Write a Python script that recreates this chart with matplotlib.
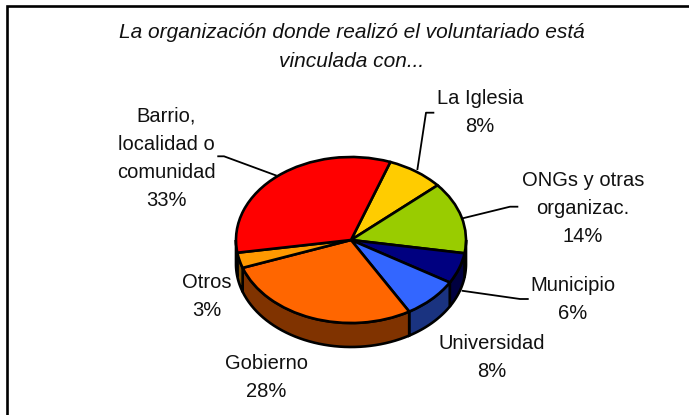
import numpy as np
import matplotlib
matplotlib.use('Agg')
import matplotlib.pyplot as plt

plt.rcParams['font.family'] = ['Liberation Sans', 'DejaVu Sans']

# data, clockwise from the red/yellow boundary
names   = ['La Iglesia', 'ONGs y otras\norganizac.', 'Municipio', 'Universidad',
           'Gobierno', 'Otros', 'Barrio,\nlocalidad o\ncomunidad']
values  = [8, 14, 6, 8, 28, 3, 33]
colours = ['#FFCC00', '#99CC00', '#000080', '#3366FF', '#FF6600', '#FF9900', '#FF0000']
sides   = ['#806600', '#4C6600', '#000040', '#1A3380', '#803300', '#804C00', '#800000']
title   = 'La organización donde realizó el voluntariado está\nvinculada con...'

W, H = 689, 415
start_cw = 20    # degrees clockwise from the top
depth = 24 / 83  # wall height in units of the vertical radius

fig = plt.figure(figsize=(W / 100, H / 100), dpi=100)

# page axes in pixel coords, for frame, text and leaders
page = fig.add_axes([0, 0, 1, 1])
page.set_xlim(0, W)
page.set_ylim(H, 0)
page.axis('off')

page.plot([7, 7, W], [H, 6.5, 6.5], color='black', lw=1.9, solid_capstyle='butt', solid_joinstyle='miter')
page.text(352, 47, title, ha='center', va='center', fontsize=15, style='italic', linespacing=1.63,
          color='#111111')

# label centres and leader lines
label_pos = [(480, 112), (583, 208.5), (573, 299), (492, 357), (266, 377), (207, 296), (166, 158)]
leaders = {
    0: [(417.3, 170), (426, 112.7), (434.3, 112.7)],
    1: [(462.7, 218.3), (510, 206.7), (518.3, 206.7)],
    2: [(461.7, 290.7), (520, 299), (528.7, 299)],
    6: [(217.3, 156.3), (224, 156.3), (276.7, 175.7)],
}
for i, name in enumerate(names):
    page.text(label_pos[i][0], label_pos[i][1], f'{name}\n{values[i]}%', ha='center', va='center',
              fontsize=14.5, linespacing=1.6, color='#111111')
for pts in leaders.values():
    xs, ys = zip(*pts)
    page.plot(xs, ys, color='black', lw=1.3, solid_capstyle='butt')

# pie axes: unit circle squashed onto the top ellipse
left, right, top, bottom = 236, 466, 157, 323
ax = fig.add_axes([left / W, 1 - bottom / H, (right - left) / W, (bottom - top) / H])
ax.patch.set_alpha(0)

# side walls, only the front half (90..270 clockwise from top) is seen
edges = start_cw + np.cumsum([0] + values) * 3.6
for i in range(len(values)):
    a0, a1 = edges[i], edges[i + 1]
    for shift in (0, -360):
        lo = max(a0 + shift, 90)
        hi = min(a1 + shift, 270)
        if hi <= lo:
            continue
        t = np.deg2rad(np.linspace(lo, hi, 40))
        x = np.sin(t)
        y = np.cos(t)
        ax.fill(np.r_[x, x[::-1]], np.r_[y, y[::-1] - depth], facecolor=sides[i],
                edgecolor='black', lw=1.9, clip_on=False, zorder=1)

wedges, _ = ax.pie(values, colors=colours, startangle=90 - start_cw, counterclock=False,
                   wedgeprops={'edgecolor': 'black', 'linewidth': 1.9})
for w in wedges:
    w.set_clip_on(False)
    w.set_zorder(2)
ax.set_aspect('auto')
ax.set_xlim(-1, 1)
ax.set_ylim(-1, 1)

fig.savefig('out.png', dpi=100)
